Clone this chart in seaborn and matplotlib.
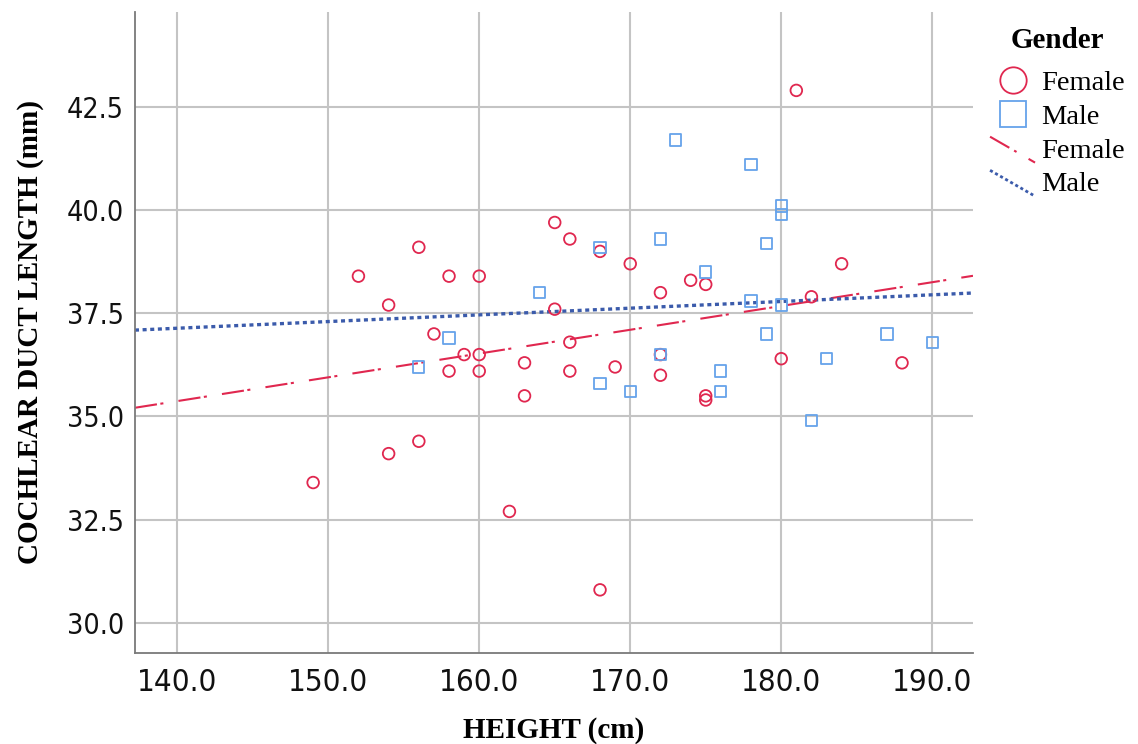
import matplotlib
matplotlib.use("Agg")
import matplotlib.pyplot as plt
from matplotlib import font_manager
from matplotlib.lines import Line2D
from matplotlib.legend_handler import HandlerBase
import seaborn as sns
import pandas as pd

# ---- data ----
female_height = [149, 152, 154, 154, 156, 156, 157, 158, 158, 159, 160, 160, 160,
                 162, 163, 163, 165, 165, 166, 166, 166, 168, 168, 169, 170,
                 172, 172, 172, 174, 175, 175, 175, 180, 181, 182, 184, 188]
female_cdl = [33.4, 38.4, 37.7, 34.1, 39.1, 34.4, 37.0, 38.4, 36.1, 36.5, 36.5, 38.4, 36.1,
              32.7, 36.3, 35.5, 39.7, 37.6, 39.3, 36.8, 36.1, 39.0, 30.8, 36.2, 38.7,
              38.0, 36.5, 36.0, 38.3, 38.2, 35.5, 35.4, 36.4, 42.9, 37.9, 38.7, 36.3]
male_height = [156, 158, 164, 168, 168, 170, 172, 172, 173, 175, 176, 176,
               178, 178, 179, 179, 180, 180, 180, 182, 183, 187, 190]
male_cdl = [36.2, 36.9, 38.0, 39.1, 35.8, 35.6, 39.3, 36.5, 41.7, 38.5, 36.1, 35.6,
            41.1, 37.8, 39.2, 37.0, 40.1, 39.9, 37.7, 34.9, 36.4, 37.0, 36.8]
x_ticks = [140, 150, 160, 170, 180, 190]
y_ticks = [30.0, 32.5, 35.0, 37.5, 40.0, 42.5]
genders = ["Female", "Male"]

df = pd.DataFrame({
    "HEIGHT": female_height + male_height,
    "CDL": female_cdl + male_cdl,
    "Gender": ["Female"] * len(female_height) + ["Male"] * len(male_height),
})

sns.set_theme(style="white")
plt.rcParams["lines.scale_dashes"] = False

xtick_fp = font_manager.FontProperties(family="DejaVu Sans", stretch="condensed", size=22.4)
ytick_fp = font_manager.FontProperties(family="DejaVu Sans", stretch="condensed", size=20.5)
serif = "Liberation Serif"

RED = "#e0274f"
LIGHTBLUE = "#66a3ea"
DARKBLUE = "#3b5bab"
GRID = "#c4c4c4"

fig = plt.figure(figsize=(11.38, 7.44), dpi=100)
ax = fig.add_axes([0.1186, 0.1223, 0.855 - 0.1186, 0.9839 - 0.1223])
ax.set_xlim(137.2, 192.7)
ax.set_ylim(29.27, 44.8)

fem = df[df.Gender == "Female"]
mal = df[df.Gender == "Male"]
sns.scatterplot(x=fem.HEIGHT, y=fem.CDL, marker="o", s=70, facecolors="none",
                edgecolors=RED, linewidths=1.3, ax=ax, zorder=3)
sns.scatterplot(x=mal.HEIGHT, y=mal.CDL, marker="s", s=65, facecolors="none",
                edgecolors=LIGHTBLUE, linewidths=1.3, ax=ax, zorder=3)

# fit lines across full axis
sns.regplot(x=fem.HEIGHT, y=fem.CDL, ci=None, truncate=False, scatter=False, ax=ax,
            line_kws=dict(color=RED, lw=1.5, dashes=(16, 2.5, 2.2, 11)))
sns.regplot(x=mal.HEIGHT, y=mal.CDL, ci=None, truncate=False, scatter=False, ax=ax,
            line_kws=dict(color=DARKBLUE, lw=2.4, dashes=(2.9, 2.6)))
ax.set_xlim(137.2, 192.7)
ax.set_ylim(29.27, 44.8)

ax.set_xticks(x_ticks)
ax.set_yticks(y_ticks)
ax.set_xticklabels([f"{v:.1f}" for v in x_ticks], fontproperties=xtick_fp, color="#111111")
ax.set_yticklabels([f"{v:.1f}" for v in y_ticks], fontproperties=ytick_fp, color="#111111")
ax.tick_params(axis="x", length=0, pad=11)
ax.tick_params(axis="y", length=0, pad=8)
ax.grid(True, color=GRID, lw=1.5)
ax.set_axisbelow(True)
for s in ["top", "right"]:
    ax.spines[s].set_visible(False)
for s in ["left", "bottom"]:
    ax.spines[s].set_color("#7a7a7a")
    ax.spines[s].set_linewidth(1.3)

ax.set_xlabel("HEIGHT (cm)", family=serif, fontweight="bold", fontsize=21, labelpad=14, color="black")
ax.set_ylabel("COCHLEAR DUCT LENGTH (mm)", family=serif, fontweight="bold", fontsize=21,
              labelpad=16, color="black")


class DiagHandler(HandlerBase):
    def create_artists(self, legend, orig_handle, xdescent, ydescent, width, height, fontsize, trans):
        ln = Line2D([-xdescent, -xdescent + width],
                    [-ydescent + height * 1.05, -ydescent - height * 0.25])
        ln.update_from(orig_handle)
        ln.set_transform(trans)
        return [ln]


fem_line = Line2D([], [], color=RED, lw=1.5, dashes=(16, 4, 2, 10))
male_line = Line2D([], [], color=DARKBLUE, lw=2.0, dashes=(2.2, 2.0))
handles = [
    Line2D([], [], ls="none", marker="o", ms=19, mfc="none", mec=RED, mew=1.3),
    Line2D([], [], ls="none", marker="s", ms=19, mfc="none", mec=LIGHTBLUE, mew=1.3),
    fem_line,
    male_line,
]
leg = fig.legend(handles, genders + genders, title="Gender",
                 loc="upper left", bbox_to_anchor=(0.870, 0.964), frameon=False,
                 prop={"family": serif, "size": 20.5}, handlelength=1.58,
                 handletextpad=0.2, labelspacing=0.27, borderaxespad=0, borderpad=0,
                 handler_map={fem_line: DiagHandler(), male_line: DiagHandler()})
leg.get_title().set_fontproperties(font_manager.FontProperties(family=serif, weight="bold", size=21))
leg.get_title().set_color("black")
for t in leg.get_texts():
    t.set_color("black")
leg._legend_box.sep = 12

fig.savefig("out.png", dpi=100)
